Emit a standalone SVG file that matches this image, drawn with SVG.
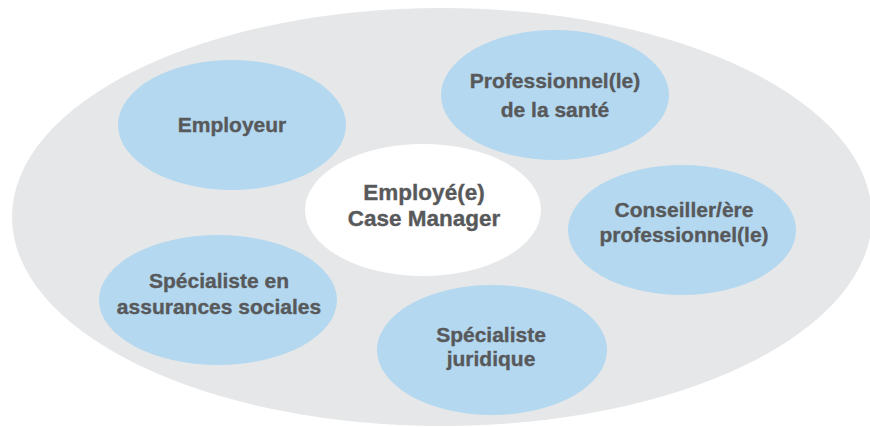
<svg xmlns="http://www.w3.org/2000/svg" width="870" height="427" viewBox="0 0 870 427">
<style>
.bg{fill:#e6e7e8}
.node{fill:#b3d8f0}
.core{fill:#ffffff}
text{font-family:"Liberation Sans",Arial,sans-serif;font-weight:bold;font-size:21px;fill:#58595b;stroke:#58595b;stroke-width:0.35px;text-anchor:middle}
.big{font-size:22.5px}
</style>
<rect width="870" height="427" fill="#ffffff"/>
<ellipse class="bg" cx="442" cy="217" rx="430" ry="209"/>
<g id="connectors"></g>
<g id="employeur">
<ellipse class="node" cx="232" cy="125" rx="114" ry="65"/>
<text x="232" y="132">Employeur</text>
</g>
<g id="professionnel-sante">
<ellipse class="node" cx="555" cy="95" rx="114" ry="65"/>
<text x="555" y="88">Professionnel(le)</text>
<text x="555" y="117">de la santé</text>
</g>
<g id="employe-case-manager">
<ellipse class="core" cx="423" cy="210" rx="118" ry="66"/>
<text class="big" x="424" y="200">Employé(e)</text>
<text class="big" x="424" y="226">Case Manager</text>
</g>
<g id="conseiller">
<ellipse class="node" cx="682" cy="230" rx="114" ry="65"/>
<text x="684" y="217">Conseiller/ère</text>
<text x="684" y="242">professionnel(le)</text>
</g>
<g id="specialiste-assurances">
<ellipse class="node" cx="218" cy="300" rx="119" ry="65"/>
<text x="219" y="288">Spécialiste en</text>
<text x="219" y="314">assurances sociales</text>
</g>
<g id="specialiste-juridique">
<ellipse class="node" cx="492" cy="350" rx="115" ry="65"/>
<text x="491" y="342">Spécialiste</text>
<text x="491" y="366">juridique</text>
</g>
</svg>
